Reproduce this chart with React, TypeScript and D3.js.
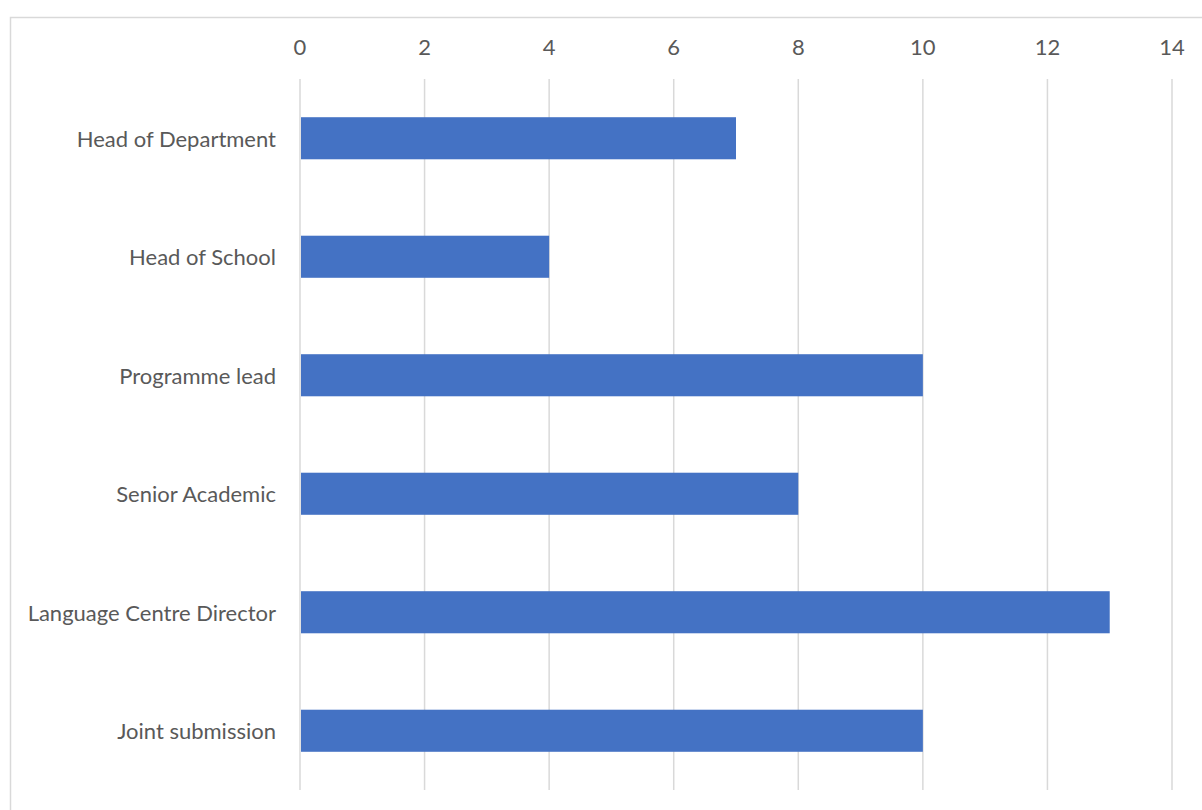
import React from "react";
import * as d3 from "d3";

const categories = [
  "Head of Department",
  "Head of School",
  "Programme lead",
  "Senior Academic",
  "Language Centre Director",
  "Joint submission",
];
const values = [7, 4, 10, 8, 13, 10];
const tickValues = [0, 2, 4, 6, 8, 10, 12, 14];

const W = 1202;
const H = 810;
const plot = { left: 300, right: 1172, top: 79, bottom: 790 };

export default function App() {
  const x = d3.scaleLinear().domain([0, 14]).range([plot.left, plot.right]);
  const y = d3
    .scaleBand<string>()
    .domain(categories)
    .range([plot.top, plot.bottom])
    .paddingInner(0.645)
    .paddingOuter(0.3225);
  const font = "Lato, 'Open Sans', sans-serif";
  return (
    <svg
      width={W}
      height={H}
      style={{ position: "absolute", left: 0, top: 0, background: "#fff" }}
    >
      <rect x={10.5} y={17.5} width={W} height={H} fill="none" stroke="#d9d9d9" strokeWidth={1.5} />
      {tickValues.map((t) => (
        <g key={t}>
          <line x1={x(t)} x2={x(t)} y1={plot.top} y2={plot.bottom} stroke="#d9d9d9" strokeWidth={1.5} />
          <text x={x(t)} y={46} textAnchor="middle" dominantBaseline="central" fontFamily={font} fontSize={22} fill="#595959">
            {t}
          </text>
        </g>
      ))}
      {categories.map((c, i) => (
        <g key={c}>
          <rect x={x(0) + 1} y={y(c)} width={x(values[i]) - x(0) - 1} height={y.bandwidth()} fill="#4472C4" />
          <text x={276} y={(y(c) as number) + y.bandwidth() / 2} textAnchor="end" dominantBaseline="central" fontFamily={font} fontSize={22} fill="#595959">
            {c}
          </text>
        </g>
      ))}
    </svg>
  );
}
